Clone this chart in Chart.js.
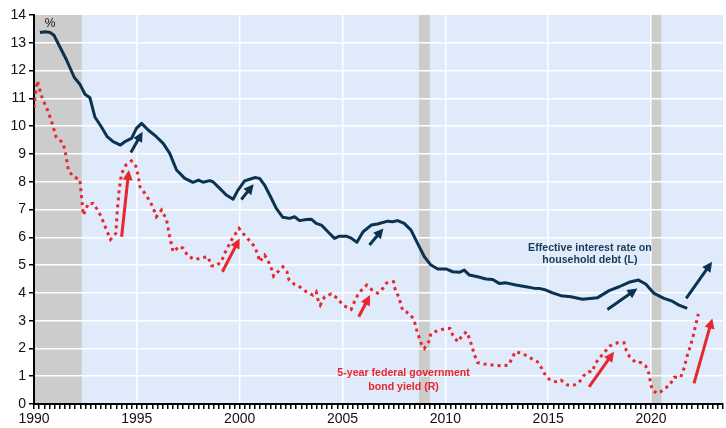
<!DOCTYPE html>
<html>
<head>
<meta charset="utf-8">
<script src="https://cdn.jsdelivr.net/npm/chart.js@4"></script>
<style>
  html, body { margin: 0; padding: 0; background: #fff; }
  #wrap { width: 726px; height: 428px; }
</style>
</head>
<body>
<div id="wrap"><canvas id="rateChart"></canvas></div>
<script>
// effective interest rate on household debt (L)
const debtYears = [1990.29, 1990.55, 1990.78, 1990.97, 1991.26, 1991.59, 1991.96, 1992.23, 1992.48, 1992.72,
  1992.96, 1993.28, 1993.56, 1993.85, 1994.2, 1994.42, 1994.74, 1994.98, 1995.23, 1995.55,
  1995.95, 1996.28, 1996.6, 1996.93, 1997.33, 1997.73, 1998.0, 1998.22, 1998.54, 1998.7,
  1999.03, 1999.35, 1999.68, 1999.92, 2000.24, 2000.49, 2000.73, 2000.97, 2001.21, 2001.46,
  2001.78, 2002.1, 2002.43, 2002.67, 2002.91, 2003.24, 2003.48, 2003.72, 2003.97, 2004.29,
  2004.61, 2004.85, 2005.18, 2005.42, 2005.7, 2006.0, 2006.4, 2006.7, 2007.2, 2007.44,
  2007.68, 2008.0, 2008.33, 2008.65, 2008.98, 2009.3, 2009.63, 2010.03, 2010.36, 2010.68,
  2010.92, 2011.17, 2011.57, 2011.98, 2012.3, 2012.62, 2012.95, 2013.43, 2013.92, 2014.3,
  2014.56, 2014.89, 2015.21, 2015.62, 2016.1, 2016.67, 2017.39, 2017.96, 2018.45, 2018.93,
  2019.39, 2019.74, 2020.15, 2020.63, 2021.03, 2021.36, 2021.76];
const debtRate = [13.37, 13.4, 13.37, 13.27, 12.85, 12.37, 11.75, 11.51, 11.15, 11.02,
  10.33, 9.97, 9.62, 9.44, 9.32, 9.44, 9.56, 9.92, 10.1, 9.86,
  9.62, 9.38, 9.02, 8.42, 8.12, 7.98, 8.06, 7.98, 8.04, 8.0,
  7.76, 7.52, 7.37, 7.7, 8.03, 8.09, 8.15, 8.12, 7.88, 7.52,
  7.04, 6.72, 6.68, 6.74, 6.6, 6.64, 6.65, 6.5, 6.44, 6.2,
  5.96, 6.04, 6.04, 5.97, 5.82, 6.2, 6.44, 6.48, 6.58, 6.56,
  6.6, 6.5, 6.26, 5.78, 5.3, 5.0, 4.86, 4.86, 4.76, 4.74,
  4.82, 4.64, 4.58, 4.5, 4.48, 4.34, 4.36, 4.28, 4.22, 4.17,
  4.16, 4.1, 4.0, 3.9, 3.86, 3.77, 3.82, 4.08, 4.22, 4.38,
  4.46, 4.32, 3.98, 3.8, 3.7, 3.56, 3.44];

// 5-year federal government bond yield (R)
const bondYears = [1990.0, 1990.05, 1990.16, 1990.29, 1990.42, 1990.61, 1990.86, 1991.07, 1991.42, 1991.55,
  1991.67, 1991.91, 1992.23, 1992.31, 1992.4, 1992.64, 1992.88, 1993.12, 1993.28, 1993.56,
  1993.72, 1993.98, 1994.04, 1994.14, 1994.26, 1994.47, 1994.74, 1994.95, 1995.06, 1995.15,
  1995.39, 1995.63, 1995.79, 1995.95, 1996.2, 1996.44, 1996.6, 1996.76, 1997.09, 1997.25,
  1997.49, 1997.82, 1998.22, 1998.46, 1998.62, 1998.83, 1999.11, 1999.27, 1999.6, 1999.97,
  2000.16, 2000.45, 2000.73, 2000.89, 2000.97, 2001.21, 2001.37, 2001.54, 2001.65, 2001.86,
  2002.1, 2002.3, 2002.39, 2002.67, 2002.96, 2003.24, 2003.56, 2003.72, 2003.8, 2003.92,
  2004.13, 2004.45, 2004.77, 2005.01, 2005.42, 2005.58, 2005.74, 2005.95, 2006.18, 2006.44,
  2006.71, 2006.96, 2007.15, 2007.48, 2007.57, 2007.73, 2007.93, 2008.09, 2008.33, 2008.5,
  2008.61, 2008.74, 2008.87, 2008.98, 2009.19, 2009.3, 2009.63, 2010.03, 2010.23, 2010.36,
  2010.6, 2010.84, 2011.03, 2011.17, 2011.3, 2011.42, 2011.57, 2011.89, 2012.3, 2012.7,
  2013.07, 2013.24, 2013.4, 2013.75, 2014.08, 2014.48, 2014.69, 2014.89, 2015.05, 2015.37,
  2015.62, 2015.94, 2016.26, 2016.5, 2016.7, 2016.96, 2017.15, 2017.28, 2017.48, 2017.72,
  2018.0, 2018.36, 2018.69, 2018.8, 2018.96, 2019.26, 2019.5, 2019.74, 2019.9, 2019.98,
  2020.06, 2020.3, 2020.47, 2020.68, 2020.91, 2021.12, 2021.44, 2021.6, 2021.77, 2021.93,
  2022.04, 2022.17, 2022.3];
const bondYield = [10.67, 11.0, 11.63, 11.29, 10.96, 10.67, 10.16, 9.62, 9.38, 8.96,
  8.42, 8.18, 8.08, 7.46, 6.8, 7.22, 7.22, 6.95, 6.72, 6.2,
  5.92, 6.14, 6.86, 7.7, 8.3, 8.6, 8.75, 8.56, 8.24, 7.82,
  7.58, 7.3, 7.07, 6.74, 6.98, 6.64, 6.02, 5.48, 5.68, 5.6,
  5.32, 5.2, 5.27, 5.3, 4.98, 4.96, 5.12, 5.42, 5.9, 6.32,
  6.14, 5.9, 5.66, 5.36, 5.12, 5.36, 5.18, 4.88, 4.6, 4.76,
  4.94, 4.76, 4.48, 4.3, 4.2, 4.04, 3.92, 4.04, 3.77, 3.56,
  3.86, 3.96, 3.8, 3.56, 3.4, 3.68, 3.92, 4.12, 4.28, 4.1,
  3.99, 4.16, 4.36, 4.4, 4.1, 3.86, 3.36, 3.32, 3.2, 2.96,
  2.66, 2.36, 2.09, 2.0, 2.24, 2.54, 2.64, 2.72, 2.72, 2.48,
  2.24, 2.48, 2.6, 2.36, 2.06, 1.76, 1.49, 1.44, 1.4, 1.38,
  1.4, 1.64, 1.88, 1.82, 1.68, 1.52, 1.28, 1.0, 0.89, 0.8,
  0.86, 0.68, 0.68, 0.77, 1.0, 1.16, 1.16, 1.44, 1.64, 1.85,
  2.09, 2.2, 2.2, 1.92, 1.7, 1.49, 1.49, 1.37, 1.1, 0.74,
  0.5, 0.38, 0.44, 0.56, 0.68, 0.96, 0.96, 1.28, 1.76, 2.12,
  2.42, 2.84, 3.24];

// recessions (shaded)
const recessionStart = [1990, 2008.72, 2019.98];
const recessionEnd = [1992.32, 2009.25, 2020.5];

// year labels on the x axis
const xLabelYears = [1990, 1995, 2000, 2005, 2010, 2015, 2020];

// arrows, [year, value] at tail and head
const debtArrowTail = [[1994.71, 9.05], [2000.08, 7.36], [2006.31, 5.72], [2017.88, 3.4], [2021.71, 3.8]];
const debtArrowHead = [[1995.28, 9.8], [2000.68, 7.91], [2006.99, 6.32], [2019.34, 4.16], [2022.97, 5.12]];
const bondArrowTail = [[1994.26, 6.02], [1999.16, 4.76], [2005.79, 3.14], [2016.99, 0.62], [2022.09, 0.74]];
const bondArrowHead = [[1994.61, 8.42], [2000.0, 5.96], [2006.34, 3.92], [2018.2, 1.88], [2022.98, 3.08]];

const NAVY = '#0b3350';
const RED = '#e8262d';

function drawArrow(ctx, x0, y0, x1, y1, color) {
  const a = Math.atan2(y1 - y0, x1 - x0);
  const c = Math.cos(a), s = Math.sin(a);
  const len = 10, half = 5;
  ctx.strokeStyle = color;
  ctx.fillStyle = color;
  ctx.lineWidth = 3;
  ctx.beginPath();
  ctx.moveTo(x0, y0);
  ctx.lineTo(x1 - len * 0.7 * c, y1 - len * 0.7 * s);
  ctx.stroke();
  ctx.beginPath();
  ctx.moveTo(x1, y1);
  ctx.lineTo(x1 - len * c + half * s, y1 - len * s - half * c);
  ctx.lineTo(x1 - len * c - half * s, y1 - len * s + half * c);
  ctx.closePath();
  ctx.fill();
}

const backdrop = {
  id: 'backdrop',
  beforeDraw(chart) {
    const { ctx, chartArea: area, scales: { x } } = chart;
    ctx.save();
    ctx.fillStyle = '#dfeafb';
    ctx.fillRect(area.left, area.top, area.right - area.left, area.bottom - area.top);
    ctx.fillStyle = '#cccccc';
    recessionStart.forEach((start, i) => {
      const x0 = x.getPixelForValue(start);
      const x1 = x.getPixelForValue(recessionEnd[i]);
      ctx.fillRect(x0, area.top, x1 - x0, area.bottom - area.top);
    });
    ctx.restore();
  }
};

const notes = {
  id: 'notes',
  afterDatasetsDraw(chart) {
    const { ctx, chartArea: area, scales: { x, y } } = chart;
    ctx.save();
    debtArrowTail.forEach((t, i) => {
      const h = debtArrowHead[i];
      drawArrow(ctx, x.getPixelForValue(t[0]), y.getPixelForValue(t[1]),
        x.getPixelForValue(h[0]), y.getPixelForValue(h[1]), NAVY);
    });
    bondArrowTail.forEach((t, i) => {
      const h = bondArrowHead[i];
      drawArrow(ctx, x.getPixelForValue(t[0]), y.getPixelForValue(t[1]),
        x.getPixelForValue(h[0]), y.getPixelForValue(h[1]), RED);
    });

    ctx.textAlign = 'center';
    ctx.textBaseline = 'middle';
    ctx.font = 'bold 10.6px "Liberation Sans", Arial, sans-serif';
    ctx.fillStyle = '#1b3a55';
    ctx.fillText('Effective interest rate on', x.getPixelForValue(2017.03), y.getPixelForValue(5.61));
    ctx.fillText('household debt (L)', x.getPixelForValue(2017.03), y.getPixelForValue(5.18));
    ctx.fillStyle = RED;
    ctx.fillText('5-year federal government', x.getPixelForValue(2007.97), y.getPixelForValue(1.12));
    ctx.fillText('bond yield (R)', x.getPixelForValue(2007.97), y.getPixelForValue(0.61));

    ctx.font = '12px "Liberation Sans", Arial, sans-serif';
    ctx.fillStyle = '#111';
    ctx.fillText('%', area.left + 16, area.top + 9);
    ctx.restore();
  }
};

new Chart(document.getElementById('rateChart'), {
  type: 'line',
  data: {
    datasets: [
      {
        label: 'Effective interest rate on household debt (L)',
        data: debtYears.map((yr, i) => ({ x: yr, y: debtRate[i] })),
        borderColor: NAVY,
        borderWidth: 3,
        pointRadius: 0,
        tension: 0,
        borderJoinStyle: 'round'
      },
      {
        label: '5-year federal government bond yield (R)',
        data: bondYears.map((yr, i) => ({ x: yr, y: bondYield[i] })),
        borderColor: RED,
        borderWidth: 3,
        borderDash: [3, 4],
        pointRadius: 0,
        tension: 0
      }
    ]
  },
  options: {
    responsive: true,
    maintainAspectRatio: false,
    animation: false,
    layout: { padding: { top: 15, right: 3, left: 0, bottom: 0 } },
    plugins: { legend: { display: false }, tooltip: { enabled: false } },
    scales: {
      x: {
        type: 'linear',
        min: 1990,
        max: 2023.5,
        afterFit: (s) => { s.height = 24; },
        border: { display: true, color: '#000', width: 2 },
        grid: {
          color: (c) => (c.tick && xLabelYears.includes(c.tick.value) && c.tick.value !== 1990) ? '#ffffff' : 'rgba(0,0,0,0)',
          lineWidth: 1.5,
          tickColor: '#000',
          tickLength: 5
        },
        ticks: {
          stepSize: 0.25,
          maxTicksLimit: 200,
          autoSkip: false,
          maxRotation: 0,
          minRotation: 0,
          padding: 2,
          color: '#111',
          font: { family: '"Liberation Sans", Arial, sans-serif', size: 14 },
          callback: (v) => xLabelYears.includes(v) ? String(v) : ''
        }
      },
      y: {
        min: 0,
        max: 14,
        afterFit: (s) => { s.width = 34; },
        border: { display: true, color: '#000', width: 2 },
        grid: {
          color: (c) => (c.tick && c.tick.value > 0 && c.tick.value < 14) ? '#ffffff' : 'rgba(0,0,0,0)',
          lineWidth: 1.5,
          tickColor: '#000',
          tickLength: 5
        },
        ticks: {
          stepSize: 1,
          padding: 3,
          color: '#111',
          font: { family: '"Liberation Sans", Arial, sans-serif', size: 14 }
        }
      }
    }
  },
  plugins: [backdrop, notes]
});
</script>
</body>
</html>
